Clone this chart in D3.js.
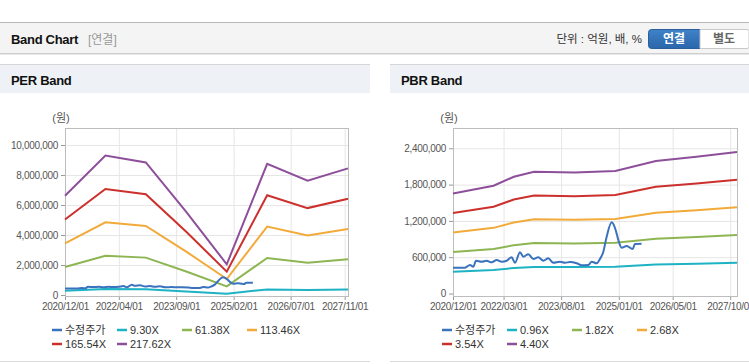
<!DOCTYPE html>
<meta charset="utf-8">
<style>
body { margin: 0; background: #fff; font-family: "Liberation Sans", Arial, "Noto Sans CJK KR", sans-serif; }
svg text { font-family: "Liberation Sans", Arial, "Noto Sans CJK KR", sans-serif; }
.tick text { fill: #555; font-size: 10px; letter-spacing: -0.3px; }
.grid line { stroke: #e6e6e6; }
.axis line { stroke: #999; }
.legend text { fill: #333; font-size: 11px; }
</style>
<body>
<script src="https://cdn.jsdelivr.net/npm/d3@7"></script>
<script>

// ---- data ----
var perDates = ["2020-12-01","2021-12-01","2022-12-01","2023-12-01","2024-12-01","2025-12-01","2026-12-01","2027-12-01"];
var per930   = [283000, 397000, 378000, 237000, 87000, 374000, 326000, 361000];
var per6138  = [1866000, 2621000, 2492000, 1565000, 577000, 2467000, 2148000, 2382000];
var per11346 = [3449000, 4845000, 4606000, 2893000, 1067000, 4561000, 3971000, 4402000];
var per16554 = [5032000, 7069000, 6721000, 4221000, 1556000, 6655000, 5794000, 6423000];
var per21762 = [6616000, 9292000, 8835000, 5549000, 2046000, 8748000, 7617000, 8444000];
var perLabels = ["9.30X", "61.38X", "113.46X", "165.54X", "217.62X"];
var perYTicks = [0, 2000000, 4000000, 6000000, 8000000, 10000000];
var perXTicks = ["2020-12-01","2022-04-01","2023-09-01","2025-02-01","2026-07-01","2027-11-01"];

var pbrDates = ["2020-12-01","2021-12-01","2022-06-01","2022-12-01","2023-12-01","2024-12-01","2025-12-01","2026-12-01","2027-12-01"];
var pbr096 = [361000, 389000, 421000, 439000, 436000, 442000, 478000, 493000, 510000];
var pbr182 = [684000, 737000, 798000, 833000, 826000, 837000, 906000, 935000, 968000];
var pbr268 = [1008000, 1085000, 1175000, 1226000, 1217000, 1233000, 1335000, 1378000, 1425000];
var pbr354 = [1331000, 1434000, 1553000, 1620000, 1607000, 1628000, 1763000, 1820000, 1882000];
var pbr440 = [1654000, 1782000, 1930000, 2013000, 1998000, 2024000, 2191000, 2262000, 2339000];
var pbrLabels = ["0.96X", "1.82X", "2.68X", "3.54X", "4.40X"];
var pbrYTicks = [0, 600000, 1200000, 1800000, 2400000];
var pbrXTicks = ["2020-12-01","2022-03-01","2023-08-01","2025-01-01","2026-05-01","2027-10-01"];

// 수정주가 (adjusted price)
var priceDates = ["2020-12-01","2021-03-19","2021-05-03","2021-06-02","2021-06-26","2021-08-16","2021-09-30","2021-11-14",
  "2021-12-29","2022-02-12","2022-03-29","2022-05-13","2022-06-12","2022-07-27","2022-08-26","2022-10-10","2022-11-24",
  "2023-01-08","2023-02-22","2023-04-08","2023-05-23","2023-07-22","2023-09-05","2023-10-20","2023-12-19","2024-02-02",
  "2024-04-02","2024-05-02","2024-06-16","2024-07-10","2024-08-15","2024-09-14","2024-10-29","2024-12-04","2024-12-28",
  "2025-01-27","2025-03-13","2025-04-12","2025-05-06","2025-05-27","2025-07-25"];
var priceValues = [427000, 427000, 471000, 443000, 542000, 526000, 542000, 515000,
  554000, 526000, 542000, 598000, 509000, 681000, 609000, 648000, 570000,
  598000, 542000, 581000, 509000, 526000, 509000, 520000, 499000, 466000,
  471000, 526000, 499000, 554000, 691000, 939000, 1177000, 1050000, 884000,
  757000, 785000, 757000, 735000, 818000, 823000];

var colors = ["#3a72bd", "#1eb3c4", "#8db653", "#f2aa3a", "#cc302c", "#8d4f9a"];

var parse = d3.timeParse("%Y-%m-%d");

var svg = d3.select("body").append("svg")
  .attr("width", 749)
  .attr("height", 364);

// ---- header bar ----
svg.append("rect").attr("x", 0).attr("y", 22).attr("width", 749).attr("height", 31).attr("fill", "#f4f4f4");
svg.append("line").attr("x1", 0).attr("x2", 749).attr("y1", 22.5).attr("y2", 22.5).attr("stroke", "#b8b8b8");
svg.append("line").attr("x1", 0).attr("x2", 749).attr("y1", 53.5).attr("y2", 53.5).attr("stroke", "#cfcfcf");
svg.append("line").attr("x1", 0).attr("x2", 749).attr("y1", 54.5).attr("y2", 54.5).attr("stroke", "#e8e8e8");
svg.append("text").attr("x", 11).attr("y", 44).attr("font-size", "13px").attr("font-weight", "bold")
  .attr("letter-spacing", "-0.3px").attr("fill", "#111").text("Band Chart");
svg.append("text").attr("x", 88).attr("y", 44).attr("font-size", "12px").attr("fill", "#999").text("[연결]");
svg.append("text").attr("x", 642).attr("y", 43).attr("text-anchor", "end").attr("font-size", "11.5px")
  .attr("fill", "#333").text("단위 : 억원, 배, %");

var grad = svg.append("defs").append("linearGradient").attr("id", "btn").attr("x1", 0).attr("x2", 0).attr("y1", 0).attr("y2", 1);
grad.append("stop").attr("offset", "0%").attr("stop-color", "#3f82c8");
grad.append("stop").attr("offset", "100%").attr("stop-color", "#2a66aa");
svg.append("path").attr("d", "M651.5,29.5 h48.5 v19 h-48.5 a3,3 0 0 1 -3,-3 v-13 a3,3 0 0 1 3,-3 z")
  .attr("fill", "url(#btn)").attr("stroke", "#2a5f9c");
svg.append("path").attr("d", "M700,29.5 h47 a2,2 0 0 1 2,2 v15 a2,2 0 0 1 -2,2 h-47 z")
  .attr("fill", "#fff").attr("stroke", "#c8c8c8");
svg.append("text").attr("x", 674).attr("y", 43).attr("text-anchor", "middle").attr("font-size", "12px")
  .attr("font-weight", "bold").attr("fill", "#fff").text("연결");
svg.append("text").attr("x", 724).attr("y", 43).attr("text-anchor", "middle").attr("font-size", "12px")
  .attr("font-weight", "bold").attr("fill", "#666").text("별도");

// ---- one band chart panel ----
function panel(opt) {
  var g = svg.append("g");

  g.append("rect").attr("x", opt.px).attr("y", 64).attr("width", opt.pw).attr("height", 29).attr("fill", "#eef2f7");
  g.append("line").attr("x1", opt.px).attr("x2", opt.px + opt.pw).attr("y1", 64.5).attr("y2", 64.5).attr("stroke", "#d6d6d6");
  g.append("line").attr("x1", opt.px).attr("x2", opt.px + opt.pw).attr("y1", 361.5).attr("y2", 361.5).attr("stroke", "#dcdcdc");
  g.append("text").attr("x", opt.px + 11).attr("y", 85).attr("font-size", "13px").attr("font-weight", "bold")
    .attr("letter-spacing", "-0.3px").attr("fill", "#111").text(opt.title);

  var x = d3.scaleTime()
    .domain([parse("2020-12-01"), parse("2027-12-01")])
    .range([opt.x0, opt.x1]);
  var y = d3.scaleLinear()
    .domain([0, opt.yTicks[opt.yTicks.length - 1]])
    .range([opt.y0, opt.yTop]);

  var top = 128, bottom = 296;

  // grid
  g.append("g").attr("class", "grid")
    .attr("transform", "translate(" + opt.x0 + ",0)")
    .call(d3.axisLeft(y).tickValues(opt.yTicks.slice(1)).tickSize(-(opt.x1 - opt.x0)).tickFormat(""))
    .call(function (s) { s.select(".domain").remove(); });
  g.append("g").attr("class", "grid")
    .attr("transform", "translate(0," + bottom + ")")
    .call(d3.axisBottom(x).tickValues(opt.xTicks.map(parse)).tickSize(-(bottom - top)).tickFormat(""))
    .call(function (s) { s.select(".domain").remove(); });

  // axes
  g.append("g").attr("class", "axis")
    .attr("transform", "translate(" + opt.x0 + ",0)")
    .call(d3.axisLeft(y).tickValues(opt.yTicks).tickSize(4).tickPadding(3).tickFormat(d3.format(",")))
    .call(function (s) { s.select(".domain").remove(); });
  g.append("g").attr("class", "axis")
    .attr("transform", "translate(0," + bottom + ")")
    .call(d3.axisBottom(x).tickValues(opt.xTicks.map(parse)).tickSize(4).tickPadding(3).tickFormat(d3.timeFormat("%Y/%m/%d")))
    .call(function (s) { s.select(".domain").remove(); });

  g.append("rect").attr("x", opt.x0 + 0.5).attr("y", top + 0.5)
    .attr("width", opt.x1 - opt.x0).attr("height", bottom - top)
    .attr("fill", "none").attr("stroke", "#bdbdbd");

  g.append("text").attr("x", opt.x0 - 4).attr("y", 122).attr("text-anchor", "middle")
    .attr("font-size", "11px").attr("fill", "#555").text("(원)");

  // lines
  var band = d3.line().x(function (d) { return x(d[0]); }).y(function (d) { return y(d[1]); });
  var dates = opt.dates.map(parse);
  opt.bands.forEach(function (vals, i) {
    g.append("path")
      .datum(dates.map(function (d, j) { return [d, vals[j]]; }))
      .attr("fill", "none").attr("stroke", colors[i + 1]).attr("stroke-width", 2)
      .attr("d", band);
  });
  var price = d3.line().curve(d3.curveMonotoneX)
    .x(function (d) { return x(d[0]); }).y(function (d) { return y(d[1]); });
  g.append("path")
    .datum(priceDates.map(function (d, j) { return [parse(d), priceValues[j]]; }))
    .attr("fill", "none").attr("stroke", colors[0]).attr("stroke-width", 2)
    .attr("d", price);

  // legend
  var names = ["수정주가"].concat(opt.labels);
  var lg = g.append("g").attr("class", "legend");
  names.forEach(function (n, i) {
    var lx = opt.px + 52 + (i % 4) * 65;
    var ly = i < 4 ? 330 : 344;
    lg.append("line").attr("x1", lx).attr("x2", lx + 10).attr("y1", ly).attr("y2", ly)
      .attr("stroke", colors[i]).attr("stroke-width", 2.5);
    lg.append("text").attr("x", lx + 13).attr("y", ly + 4).text(n);
  });
}

panel({
  title: "PER Band", px: 0, pw: 370,
  x0: 65, x1: 348, y0: 295, yTop: 145,
  yTicks: perYTicks, xTicks: perXTicks,
  dates: perDates, bands: [per930, per6138, per11346, per16554, per21762], labels: perLabels
});

panel({
  title: "PBR Band", px: 390, pw: 359,
  x0: 453, x1: 737, y0: 293.5, yTop: 148.3,
  yTicks: pbrYTicks, xTicks: pbrXTicks,
  dates: pbrDates, bands: [pbr096, pbr182, pbr268, pbr354, pbr440], labels: pbrLabels
});

</script>
</body>
